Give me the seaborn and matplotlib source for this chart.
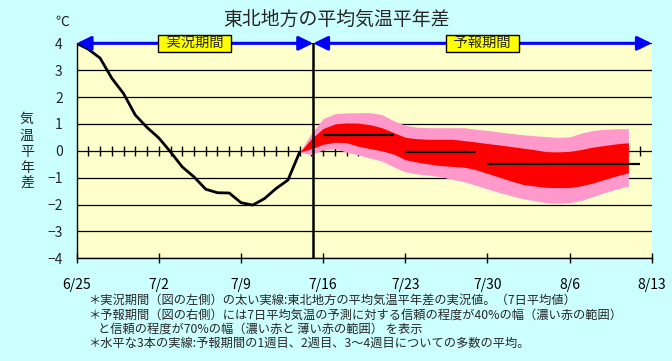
import matplotlib
matplotlib.use("Agg")
import matplotlib.pyplot as plt
import numpy as np
import seaborn as sb

# ------------------------------------------------------------------
# date (zile de la 6/25)
# ------------------------------------------------------------------
obs_days = np.arange(0, 20)
obs_vals = [4.00, 3.78, 3.45, 2.70, 2.13, 1.33, 0.87, 0.48, -0.04, -0.60,
            -0.97, -1.43, -1.56, -1.57, -1.93, -2.02, -1.78, -1.40, -1.09, -0.05]

fc_days = np.arange(19, 48)
pink_hi = [-0.05, 0.65, 1.20, 1.38, 1.41, 1.42, 1.42, 1.35, 1.12, 0.95,
           0.88, 0.86, 0.86, 0.86, 0.86, 0.80, 0.76, 0.70, 0.65, 0.60,
           0.56, 0.53, 0.50, 0.52, 0.66, 0.76, 0.80, 0.82, 0.82]
red_hi = [-0.05, 0.45, 0.83, 1.00, 1.04, 1.03, 0.97, 0.86, 0.68, 0.50,
          0.45, 0.43, 0.43, 0.43, 0.38, 0.33, 0.27, 0.22, 0.16, 0.10,
          0.04, -0.03, -0.04, -0.02, 0.05, 0.14, 0.20, 0.26, 0.30]
red_lo = [-0.05, 0.08, 0.24, 0.32, 0.30, 0.17, 0.08, 0.00, -0.12, -0.33,
          -0.42, -0.49, -0.55, -0.58, -0.61, -0.70, -0.84, -0.98, -1.12, -1.25,
          -1.31, -1.36, -1.37, -1.37, -1.30, -1.20, -1.06, -0.93, -0.82]
pink_lo = [-0.05, -0.14, 0.04, 0.08, -0.05, -0.15, -0.27, -0.38, -0.60, -0.78,
           -0.86, -0.90, -0.97, -1.06, -1.15, -1.28, -1.42, -1.55, -1.67, -1.78,
           -1.86, -1.93, -1.95, -1.93, -1.85, -1.70, -1.55, -1.42, -1.32]

# medii saptamanale: (start, sfarsit, valoare)
week_start = [21, 28, 35]
week_end = [27, 34, 48]
week_mean = [0.58, -0.03, -0.48]

split_day = 20.15
end_day = 49
tick_days = np.arange(0, 50, 7)
tick_labels = ["6/25", "7/2", "7/9", "7/16", "7/23", "7/30", "8/6", "8/13"]
yticks = np.arange(-4, 5)

notes = [
    "＊実況期間（図の左側）の太い実線:東北地方の平均気温平年差の実況値。（7日平均値）",
    "＊予報期間（図の右側）には7日平均気温の予測に対する信頼の程度が40%の幅（濃い赤の範囲）",
    "と信頼の程度が70%の幅（濃い赤と 薄い赤の範囲） を表示",
    "＊水平な3本の実線:予報期間の1週目、2週目、3～4週目についての多数の平均。",
]

# ------------------------------------------------------------------
sb.set_style("white")
plt.rcParams['font.family'] = ['Noto Sans CJK JP', 'DejaVu Sans']
plt.rcParams['axes.unicode_minus'] = True

fig = plt.figure(figsize=(6.72, 3.61), dpi=100, facecolor='#CCFFFF')
ax = fig.add_axes([0.114, 0.2845, 0.856, 0.5955])
ax.set_facecolor('#FFFFCC')

# benzi de incredere
ax.fill_between(fc_days, pink_lo, pink_hi, color='#FF99CC', lw=0, zorder=3)
ax.fill_between(fc_days, red_lo, red_hi, color='#FF0000', lw=0, zorder=4)

# linia observata
sb.lineplot(x=obs_days, y=obs_vals, color='black', lw=2, ax=ax, zorder=5)

# medii
ax.hlines(week_mean, week_start, week_end, color='black', lw=1.6, zorder=6)

# separator
ax.axvline(split_day, color='black', lw=1.8, zorder=7)

# linii orizontale + tick-uri zilnice pe zero
for yv in yticks:
    ax.axhline(yv, color='black', lw=0.9, zorder=1)
ax.plot(np.arange(1, end_day), np.zeros(end_day - 1), ls='none', marker='|',
        ms=7.5, mew=1, color='black', zorder=2)

# sageti perioade
arr = dict(arrowstyle='<|-|>,head_length=0.43,head_width=0.21', color='#0000FF',
           lw=2.2, mutation_scale=20, shrinkA=0, shrinkB=0)
ax.annotate('', xy=(0, 4), xytext=(split_day, 4), arrowprops=arr, zorder=8,
            annotation_clip=False)
ax.annotate('', xy=(split_day, 4), xytext=(end_day, 4), arrowprops=arr, zorder=8,
            annotation_clip=False)
box = dict(boxstyle='square,pad=0.1', fc='#FFFF00', ec='black', lw=1)
ax.text(split_day / 2, 4, "  実況期間  ", ha='center', va='center', fontsize=10.3,
        bbox=box, zorder=9)
ax.text((split_day + end_day) / 2, 4, "  予報期間  ", ha='center', va='center',
        fontsize=10.3, bbox=box, zorder=9)

# axe
ax.set_xlim(0, end_day)
ax.set_ylim(-4, 4)
ax.set_xticks(tick_days)
ax.set_xticklabels(tick_labels)
ax.set_yticks(yticks)
ax.tick_params(axis='x', direction='inout', length=7, width=1, pad=11,
               labelsize=10, colors='black', bottom=True)
ax.tick_params(axis='y', length=0, pad=10, labelsize=10)
ax.set_xlabel('')
ax.set_ylabel('')
for s in ['top', 'right']:
    ax.spines[s].set_visible(False)
for s in ['left', 'bottom']:
    ax.spines[s].set_color('black')
    ax.spines[s].set_linewidth(1)
ax.spines['left'].set_zorder(10)

# texte
fig.text(0.5, 0.945, "東北地方の平均気温平年差", ha='center', va='center', fontsize=13.6)
fig.text(0.092, 0.939, "℃", ha='center', va='center', fontsize=10)
fig.text(0.040, 0.580, "気\n温\n平\n年\n差", ha='center', va='center', fontsize=10,
         linespacing=1.2)
note_y = [300, 315, 329, 343]
note_x = [88, 88, 98, 88]
for t, xx, yy in zip(notes, note_x, note_y):
    fig.text(xx / 672, 1 - yy / 361, t, ha='left', va='center', fontsize=8.8)

fig.savefig('out.png', dpi=100, facecolor=fig.get_facecolor())
